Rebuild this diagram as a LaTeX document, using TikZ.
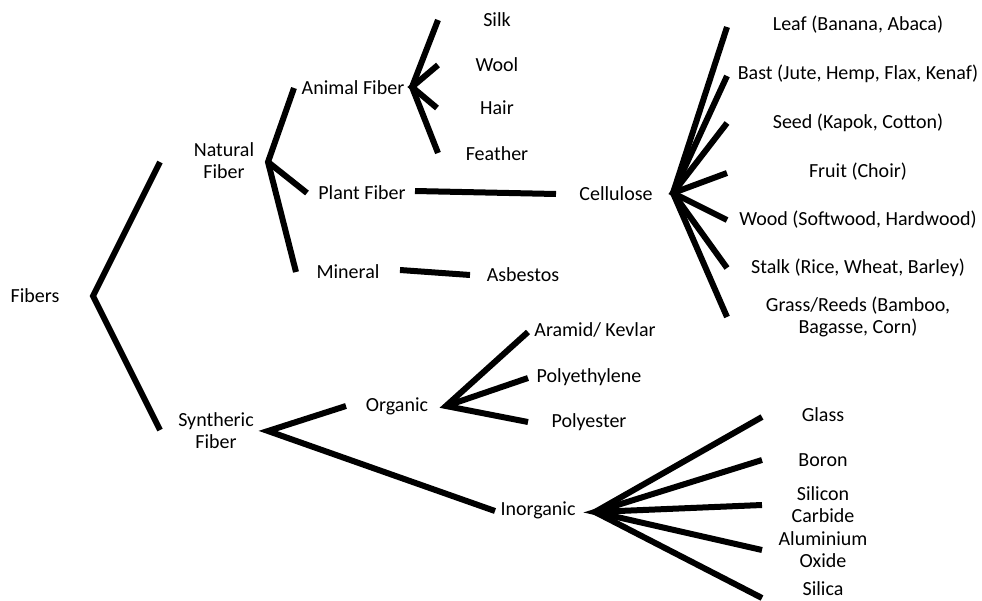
\documentclass[tikz,border=0pt]{standalone}
\usepackage{fontspec}
\setmainfont{Carlito}
\usetikzlibrary{positioning}

\begin{document}
\begin{tikzpicture}[x=1pt,y=-1pt,
  font=\fontsize{20}{22}\selectfont,
  lbl/.style={align=center,inner sep=0pt},
  branch/.style={line width=6pt}]

\useasboundingbox[fill=white] (0,0) rectangle (982,600);

% main split
\node[lbl] (fibers) at (35,296) {Fibers};
\node[lbl] (natural) at (224,161) {Natural\\Fiber};
\node[lbl] (synthetic) at (216,431) {Syntheric\\Fiber};

\coordinate (fibJ) at (93,296);
\coordinate (natE) at (160,162);
\coordinate (synE) at (160,430);
\draw[branch] (natE) -- (fibJ) -- (synE);

% natural fibers
\node[lbl] (animal) at (353,88) {Animal Fiber};
\node[lbl] (plant) at (362,193) {Plant Fiber};
\node[lbl] (mineral) at (348,272) {Mineral};
\node[lbl] (asbestos) at (523,275) {Asbestos};

\coordinate (natJ) at (268,162);
\coordinate (aniE) at (294,88);
\coordinate (plaE) at (307,193);
\coordinate (minE) at (296,272);
\draw[branch] (aniE) -- (natJ) -- (minE);
\draw[branch] (natJ) -- (plaE);

\coordinate (minJ) at (400,270);
\coordinate (asbE) at (470,275);
\draw[branch] (minJ) -- (asbE);

% animal fibers
\node[lbl] (silk) at (497,20) {Silk};
\node[lbl] (wool) at (497,65) {Wool};
\node[lbl] (hair) at (497,108) {Hair};
\node[lbl] (feather) at (497,154) {Feather};

\coordinate (aniJ) at (412,87);
\coordinate (silkE) at (438,20);
\coordinate (woolE) at (438,65);
\coordinate (hairE) at (437,108);
\coordinate (featE) at (438,153);
\draw[branch] (silkE) -- (aniJ) -- (featE);
\draw[branch] (woolE) -- (aniJ) -- (hairE);

% plant fibers
\node[lbl] (cellulose) at (616,194) {Cellulose};
\coordinate (plaJ) at (415,191);
\coordinate (celE) at (556,194);
\draw[branch] (plaJ) -- (celE);

\node[lbl] (leaf) at (858,25) {Leaf (Banana, Abaca)};
\node[lbl] (bast) at (858,74) {Bast (Jute, Hemp, Flax, Kenaf)};
\node[lbl] (seed) at (858,123) {Seed (Kapok, Cotton)};
\node[lbl] (fruit) at (858,172) {Fruit (Choir)};
\node[lbl] (wood) at (858,220) {Wood (Softwood, Hardwood)};
\node[lbl] (stalk) at (858,268) {Stalk (Rice, Wheat, Barley)};
\node[lbl] (grass) at (858,317) {Grass/Reeds (Bamboo,\\Bagasse, Corn)};

\coordinate (celJ) at (673,193);
\coordinate (leafE) at (727,27);
\coordinate (bastE) at (727,76);
\coordinate (seedE) at (727,123);
\coordinate (fruitE) at (727,173);
\coordinate (woodE) at (727,220);
\coordinate (stalkE) at (727,268);
\coordinate (grassE) at (727,317);
\draw[branch] (leafE) -- (celJ) -- (grassE);
\draw[branch] (bastE) -- (celJ) -- (stalkE);
\draw[branch] (seedE) -- (celJ) -- (woodE);
\draw[branch] (celJ) -- (fruitE);

% synthetic fibers
\node[lbl] (organic) at (397,406) {Organic};
\node[lbl] (inorganic) at (538,510) {Inorganic};

\coordinate (synJ) at (268,431);
\coordinate (orgE) at (346,406);
\coordinate (inoE) at (495,511);
\draw[branch] (orgE) -- (synJ) -- (inoE);

\node[lbl] (aramid) at (595,330) {Aramid/ Kevlar};
\node[lbl] (polyeth) at (589,377) {Polyethylene};
\node[lbl] (polyester) at (589,422) {Polyester};

\coordinate (orgJ) at (446,406);
\coordinate (araE) at (528,332);
\coordinate (pethE) at (528,378);
\coordinate (pestE) at (528,422);
\draw[branch] (araE) -- (orgJ) -- (pestE);
\draw[branch] (orgJ) -- (pethE);

\node[lbl] (glass) at (823,415) {Glass};
\node[lbl] (boron) at (823,460) {Boron};
\node[lbl] (sic) at (823,505) {Silicon\\Carbide};
\node[lbl] (alox) at (823,550) {Aluminium\\Oxide};
\node[lbl] (silica) at (823,589) {Silica};

\coordinate (inoJ) at (595,512);
\coordinate (glassE) at (762,417);
\coordinate (boronE) at (762,460);
\coordinate (sicE) at (762,505);
\coordinate (aloxE) at (762,550);
\coordinate (silicaE) at (762,598);
\draw[branch] (glassE) -- (inoJ) -- (silicaE);
\draw[branch] (boronE) -- (inoJ) -- (aloxE);
\draw[branch] (inoJ) -- (sicE);

\end{tikzpicture}
\end{document}
